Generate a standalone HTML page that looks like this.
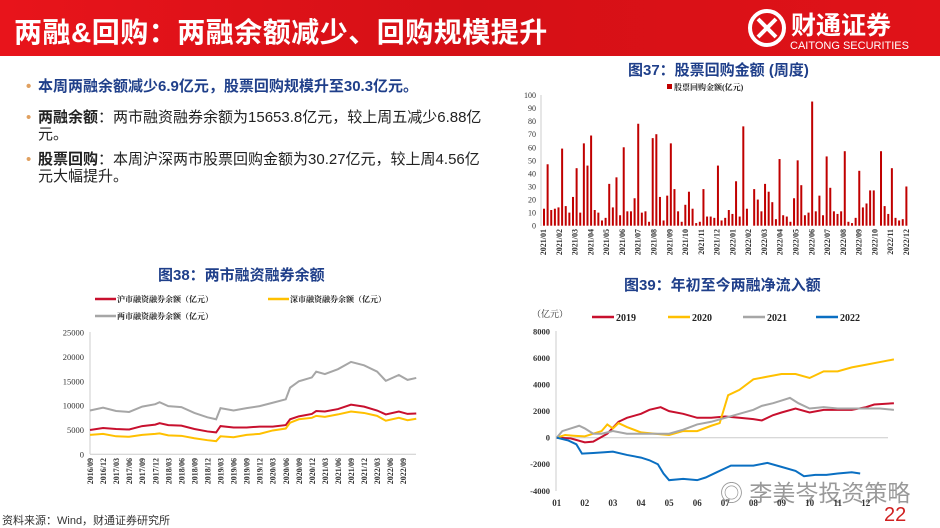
<!DOCTYPE html>
<html><head><meta charset="utf-8">
<style>
body{margin:0;width:940px;height:526px;overflow:hidden;background:#fff;font-family:"Liberation Sans","Noto Sans CJK SC",sans-serif;position:relative}
.hdr{position:absolute;left:0;top:0;width:940px;height:56px;background:linear-gradient(90deg,#e8141b,#d51016 50%,#e01218)}
.ttl{position:absolute;left:14px;top:11px;color:#fff;font-size:28px;font-weight:bold;letter-spacing:0.5px}
.logo{position:absolute;left:745px;top:7px;color:#fff}
.bul{position:absolute;left:20px;font-size:15px;color:#222;width:445px;line-height:17px}
.bul .d{position:absolute;left:-12px;color:#e0a060}
.cap{position:absolute;font-size:15px;font-weight:bold;color:#1f3f8a}
svg{position:absolute;left:0;top:0}
</style></head><body>
<div class="hdr"></div>
<div class="ttl">两融&amp;回购：两融余额减少、回购规模提升</div>
<div class="logo">
<svg width="190" height="46" style="position:static"><circle cx="22" cy="21" r="17" fill="none" stroke="#fff" stroke-width="4"/><path d="M13 12 L31 30 M31 12 L13 30" stroke="#fff" stroke-width="4"/><text x="46" y="27" fill="#fff" font-size="25" font-weight="bold" font-family="Liberation Sans,Noto Sans CJK SC,sans-serif">财通证券</text><text x="45" y="42" fill="#fff" font-size="11" font-family="Liberation Sans,sans-serif">CAITONG SECURITIES</text></svg></div>
<div class="bul" style="top:78px;color:#1f3f8a;font-weight:bold;left:38px;width:460px"><span class="d">•</span>本周两融余额减少6.9亿元，股票回购规模升至30.3亿元。</div>
<div class="bul" style="top:109px;left:38px"><span class="d">•</span><b>两融余额</b>：两市融资融券余额为15653.8亿元，较上周五减少6.88亿元。</div>
<div class="bul" style="top:151px;left:38px"><span class="d">•</span><b>股票回购</b>：本周沪深两市股票回购金额为30.27亿元，较上周4.56亿元大幅提升。</div>
<div class="cap" style="left:628px;top:59px">图37：股票回购金额 (周度)</div>
<div class="cap" style="left:158px;top:264px">图38：两市融资融券余额</div>
<div class="cap" style="left:624px;top:274px">图39：年初至今两融净流入额</div>
<div style="position:absolute;left:2px;top:512px;font-size:11px;color:#333">资料来源：Wind，财通证券研究所</div>
<div style="position:absolute;left:720px;top:474px;font-size:23px;color:#999">◎ 李美岑投资策略</div>
<div style="position:absolute;left:884px;top:504px;font-size:20px;color:#d02020">22</div>
<svg id="s" width="940" height="526"></svg>
<script>
// Fig37 data
const buyback=[13,47,12,13,14,59,15,10,22,44,10,63,46,69,12,10,4,6,32,14,37,8,60,11,11,21,78,10,11,3,67,70,22,4,23,63,28,11,3,16,26,13,2,3,28,7,7,6,46,4,6,12,9,34,7,76,13,0,28,20,11,32,26,18,5,51,8,7,3,21,50,31,8,10,95,11,23,8,53,29,11,9,11,57,3,2,6,42,14,17,27,27,0,57,15,9,44,6,4,5,30];
const months37=["2021/01","2021/02","2021/03","2021/04","2021/05","2021/06","2021/07","2021/08","2021/09","2021/10","2021/11","2021/12","2022/01","2022/02","2022/03","2022/04","2022/05","2022/06","2022/07","2022/08","2022/09","2022/10","2022/11","2022/12"];
const ticks37=[0,10,20,30,40,50,60,70,80,90,100];
// Fig38 data (month index from 2016/09)
const mIdx=[0,3,6,9,12,15,16,18,21,24,27,29,30,33,36,39,42,45,46,48,51,52,54,57,60,63,66,68,71,73,75];
const huVals=[5000,5400,5200,5100,5800,6100,6400,6000,5900,5200,4700,4500,5800,5500,5500,5700,5700,6000,7200,7800,8300,8900,8800,9300,10200,9800,9000,8200,8800,8300,8400];
const shenVals=[4000,4200,3700,3600,4000,4200,4300,3900,3800,3300,2900,2700,3700,3500,4000,4200,4900,5300,6500,7200,7500,7900,7700,8200,8800,8500,7900,6900,7500,7000,7300];
const totalVals=[9000,9600,8900,8700,9800,10300,10700,9900,9700,8500,7600,7200,9500,9000,9500,9900,10600,11300,13700,15000,15800,17000,16500,17500,19000,18300,17000,15100,16300,15300,15700];
const labels38=["2016/09","2016/12","2017/03","2017/06","2017/09","2017/12","2018/03","2018/06","2018/09","2018/12","2019/03","2019/06","2019/09","2019/12","2020/03","2020/06","2020/09","2020/12","2021/03","2021/06","2021/09","2021/12","2022/03","2022/06","2022/09"];
const ticks38=[0,5000,10000,15000,20000,25000];
// Fig39 data (x = month, fractional)
const m19=[1,1.5,2,2.3,2.8,3.2,3.5,4,4.3,4.7,5,5.5,6,6.5,7,7.5,8,8.3,8.7,9,9.5,10,10.5,11,11.5,12,12.3,13];
const v19=[0,-50,-350,-300,300,1200,1500,1800,2100,2300,2000,1800,1500,1500,1600,1500,1400,1300,1700,1900,2200,1900,2100,2100,2100,2300,2500,2600];
const m20=[1,1.3,1.6,2,2.3,2.6,2.8,3,3.2,3.5,4,4.5,5,5.5,6,6.5,6.8,7,7.1,7.5,8,8.5,9,9.5,10,10.5,11,11.5,12,12.5,13];
const v20=[0,200,150,100,300,500,1000,700,1100,800,400,300,200,500,500,900,1100,2500,3200,3600,4400,4600,4800,4800,4500,5000,5000,5300,5500,5700,5900];
const m21=[1,1.2,1.5,1.8,2,2.3,2.6,3,3.5,4,4.5,5,5.5,6,6.5,7,7.5,8,8.3,8.7,9,9.3,9.6,10,10.5,11,11.5,12,12.5,13];
const v21=[0,500,700,900,700,300,300,500,300,300,300,300,600,1000,1200,1500,1800,2100,2400,2600,2800,3000,2600,2200,2300,2200,2200,2200,2200,2100];
const m22=[1,1.4,1.7,1.9,2.3,2.7,3,3.5,4,4.3,4.6,4.8,5,5.5,6,6.3,6.7,7,7.2,7.6,8,8.5,9,9.5,9.8,10.2,10.6,11,11.5,11.8];
const v22=[0,-200,-500,-1200,-1150,-1100,-1050,-1300,-1500,-1700,-2000,-2700,-3200,-3100,-3200,-3000,-2600,-2300,-2100,-2100,-2100,-1900,-2200,-2500,-2900,-2800,-2800,-2700,-2600,-2700];
const ticks39=[-4000,-2000,0,2000,4000,6000,8000];
const labels39=["01","02","03","04","05","06","07","08","09","10","11","12"];

const S=document.getElementById('s'),NS='http://www.w3.org/2000/svg';
function mk(t,a,txt){const e=document.createElementNS(NS,t);for(const k in a)e.setAttribute(k,a[k]);if(txt!=null)e.textContent=txt;S.appendChild(e);return e;}
const SER='"Liberation Serif","Noto Serif CJK SC",serif';

// ---- Fig37
const x37=i=>543+i*(366/buyback.length), y37=v=>225.7-v*1.307;
let e=mk('line',{x1:541,y1:95,x2:541,y2:226,stroke:'#ccc'});

ticks37.forEach(t=>{let l=mk('text',{x:536,y:y37(t)+3,'font-size':8,'text-anchor':'end','font-family':SER,fill:'#333'},t);
});
buyback.forEach((v,i)=>{let r=mk('rect',{x:x37(i),y:y37(v),width:2,height:225.7-y37(v),fill:'#c00000'});
});
months37.forEach((m,i)=>{const x=543+i*(363/23)+3;let l=mk('text',{transform:`translate(${x},229) rotate(-90)`,'font-size':8,'text-anchor':'end','font-family':SER,'font-weight':'bold',fill:'#333'},m);
});
e=mk('rect',{x:667,y:84,width:5,height:5,fill:'#c00000'});
e=mk('text',{x:674,y:90,'font-size':8,'font-weight':'bold','font-family':SER,fill:'#222'},'股票回购金额(亿元)');

// ---- Fig38
const x38=m=>90+m*4.35, y38=v=>454.3-v*0.004864;
e=mk('line',{x1:90,y1:332,x2:90,y2:454,stroke:'#ccc'});
e=mk('line',{x1:90,y1:454.3,x2:416,y2:454.3,stroke:'#ccc'});
ticks38.forEach(t=>{let l=mk('text',{x:84,y:y38(t)+3,'font-size':8.5,'text-anchor':'end','font-family':SER,fill:'#333'},t);
});
labels38.forEach((m,i)=>{const x=x38(i*3)+3;let l=mk('text',{transform:`translate(${x},458) rotate(-90)`,'font-size':8,'text-anchor':'end','font-family':SER,'font-weight':'bold',fill:'#333'},m);
});
function line(xs,ys,fx,fy,c,n){const p=mk('polyline',{points:xs.map((x,i)=>fx(x)+','+fy(ys[i])).join(' '),fill:'none',stroke:c,'stroke-width':2});
}
line(mIdx,totalVals,x38,y38,'#a6a6a6','total-margin-line');
line(mIdx,huVals,x38,y38,'#c8102e','sh-margin-line');
line(mIdx,shenVals,x38,y38,'#ffc000','sz-margin-line');
[[95,299,'#c8102e','沪市融资融券余额（亿元）'],[268,299,'#ffc000','深市融资融券余额（亿元）'],[95,316,'#a6a6a6','两市融资融券余额（亿元）']].forEach(a=>{
let l=mk('line',{x1:a[0],y1:a[1],x2:a[0]+21,y2:a[1],stroke:a[2],'stroke-width':2.5});
let t=mk('text',{x:a[0]+22,y:a[1]+3,'font-size':8,'font-weight':'bold','font-family':SER,fill:'#222'},a[3]);});

// ---- Fig39
const x39=m=>556.7+(m-1)*28.1, y39=v=>437.7-v*0.01327;
e=mk('line',{x1:556,y1:331,x2:556,y2:491,stroke:'#ccc'});
e=mk('line',{x1:556,y1:437.7,x2:888,y2:437.7,stroke:'#ccc'});
ticks39.forEach(t=>{let l=mk('text',{x:550,y:y39(t)+3,'font-size':8.5,'text-anchor':'end','font-family':SER,'font-weight':'bold',fill:'#333'},t);
});
labels39.forEach((m,i)=>{let l=mk('text',{x:x39(i+1),y:506,'font-size':9,'text-anchor':'middle','font-family':SER,'font-weight':'bold',fill:'#333'},m);
});
line(m19,v19,x39,y39,'#c8102e','line-2019');
line(m20,v20,x39,y39,'#ffc000','line-2020');
line(m21,v21,x39,y39,'#a6a6a6','line-2021');
line(m22,v22,x39,y39,'#0a6fc2','line-2022');
e=mk('text',{x:532,y:317,'font-size':9,'font-family':SER,fill:'#333'},'（亿元）');
[[592,'#c8102e','2019'],[668,'#ffc000','2020'],[743,'#a6a6a6','2021'],[816,'#0a6fc2','2022']].forEach(a=>{
let l=mk('line',{x1:a[0],y1:317,x2:a[0]+22,y2:317,stroke:a[1],'stroke-width':2.5});
let t=mk('text',{x:a[0]+24,y:321,'font-size':10,'font-weight':'bold','font-family':SER,fill:'#222'},a[2]);});
</script>
</body></html>
